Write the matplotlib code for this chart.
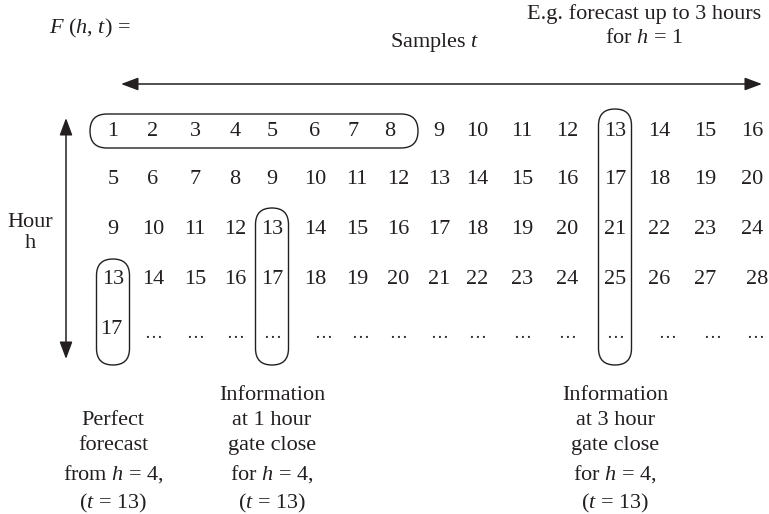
import matplotlib
matplotlib.use("Agg")
import matplotlib.pyplot as plt
from matplotlib.patches import FancyBboxPatch

plt.rcParams['font.family'] = ['Liberation Serif', 'DejaVu Serif']
plt.rcParams['mathtext.fontset'] = 'custom'
plt.rcParams['mathtext.rm'] = 'Liberation Serif'
plt.rcParams['mathtext.it'] = 'Liberation Serif:italic'

INK = '#231f20'
FS = 16

# values in the grid F(h, t), one list per hour row
row1 = ['1', '2', '3', '4', '5', '6', '7', '8', '9', '10', '11', '12', '13', '14', '15', '16']
row2 = ['5', '6', '7', '8', '9', '10', '11', '12', '13', '14', '15', '16', '17', '18', '19', '20']
row3 = ['9', '10', '11', '12', '13', '14', '15', '16', '17', '18', '19', '20', '21', '22', '23', '24']
row4 = ['13', '14', '15', '16', '17', '18', '19', '20', '21', '22', '23', '24', '25', '26', '27', '28']
row5 = ['17'] + ['\u2026'] * 15
rows = [row1, row2, row3, row4, row5]

# circled groups: (row from, row to, col from, col to)
groups = [(0, 0, 0, 7), (3, 4, 0, 0), (2, 4, 4, 4), (0, 4, 12, 12)]

captions = [
    (0, "Perfect\nforecast\nfrom $h$ = 4,\n($t$ = 13)"),
    (4, "Information\nat 1 hour\ngate close\nfor $h$ = 4,\n($t$ = 13)"),
    (12, "Information\nat 3 hour\ngate close\nfor $h$ = 4,\n($t$ = 13)"),
]

# layout (pixels)
col_x = [113, 153, 195, 235, 272, 315, 357, 398, 439, 477, 522, 567, 615, 659, 705, 752]
row_y = [132, 180, 229, 280, 330]
shift = {(0, 6): -4, (0, 7): -8, (4, 5): 8, (4, 6): 3, (4, 13): 8, (4, 14): 7,
         (4, 15): 3, (3, 15): 5, (4, 0): -2}

fig = plt.figure(figsize=(7.69, 5.14), dpi=100)
ax = fig.add_axes([0, 0, 1, 1])
ax.set_xlim(0, 769)
ax.set_ylim(514, 0)
ax.axis('off')

for r, vals in enumerate(rows):
    for c, v in enumerate(vals):
        dots = v == '\u2026'
        ax.text(col_x[c] + shift.get((r, c), 0), row_y[r] + (3 if dots else 0), v,
                fontsize=13 if dots else FS, color=INK, ha='center', va='center')

# rounded outlines
half_w = 16.5
for r0, r1, c0, c1 in groups:
    if r0 == r1:
        x0, x1 = 90, 418
        y0, y1 = row_y[r0] - 18, row_y[r0] + 16
    else:
        x0 = col_x[c0] - half_w
        x1 = col_x[c0] + half_w
        y0 = row_y[r0] - 21 if r0 > 0 else row_y[r0] - 23
        y1 = row_y[r1] + 35
    rad = min(x1 - x0, y1 - y0) / 2
    ax.add_patch(FancyBboxPatch((x0, y0), x1 - x0, y1 - y0,
                                boxstyle=f"round,pad=0,rounding_size={rad}",
                                fill=False, ec=INK, lw=1.0))

# arrows
astyle = '<|-|>,head_length=0.75,head_width=0.28'
ax.annotate('', xy=(762, 84), xytext=(121, 84),
            arrowprops=dict(arrowstyle=astyle, color=INK, lw=1.1, mutation_scale=14,
                            shrinkA=0, shrinkB=0))
ax.annotate('', xy=(66, 118), xytext=(66, 359),
            arrowprops=dict(arrowstyle=astyle, color=INK, lw=1.1, mutation_scale=14,
                            shrinkA=0, shrinkB=0))

ax.text(49, 28, "$F$ ($h$, $t$) =", fontsize=FS, color=INK, ha='left', va='center')
ax.text(435, 43, "Samples $t$", fontsize=FS, color=INK, ha='center', va='center')
ax.text(644, 26, "E.g. forecast up to 3 hours\nfor $h$ = 1", fontsize=FS, color=INK,
        ha='center', va='center', linespacing=1.3)
ax.text(30, 233, "Hour\nh", fontsize=FS, color=INK, ha='center', va='center',
        linespacing=1.15)

for c, txt in captions:
    ax.text(col_x[c], 515, txt, fontsize=FS, color=INK, ha='center', va='bottom',
            linespacing=1.45)

fig.savefig("out.png", dpi=100, facecolor='white')
